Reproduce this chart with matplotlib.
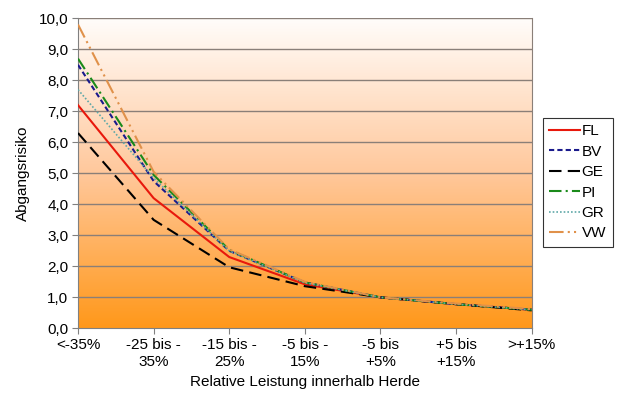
import matplotlib.pyplot as plt
import numpy as np
from matplotlib.colors import LinearSegmentedColormap

plt.rcParams['font.family'] = ['Liberation Sans', 'DejaVu Sans']

categories = ["<-35%", "-25 bis -\n35%", "-15 bis -\n25%", "-5 bis -\n15%",
              "-5 bis\n+5%", "+5 bis\n+15%", ">+15%"]

fl = [7.2, 4.2, 2.3, 1.42, 1.0, 0.78, 0.6]
bv = [8.5, 4.75, 2.5, 1.48, 1.0, 0.78, 0.6]
ge = [6.3, 3.5, 1.97, 1.36, 1.0, 0.78, 0.58]
pi = [8.7, 4.95, 2.53, 1.48, 1.0, 0.78, 0.6]
gr = [7.7, 4.85, 2.5, 1.47, 1.0, 0.78, 0.6]
vw = [9.8, 5.05, 2.55, 1.5, 1.0, 0.8, 0.62]

fig = plt.figure(figsize=(6.19, 3.98), dpi=100)
ax = fig.add_axes([0.126, 0.175, 0.733, 0.779])

x = np.arange(len(categories))

# background gradient, white at the top to orange at the bottom
cmap = LinearSegmentedColormap.from_list("bg", ["#FF981A", "#FFC89C", "#FFFDFB"])
grad = np.linspace(0, 1, 256).reshape(-1, 1)
ax.imshow(grad, cmap=cmap, aspect="auto", origin="lower",
          extent=[0, len(categories) - 1, 0, 10], zorder=0)

for yv in np.arange(1, 11):
    ax.axhline(yv, color="#8A7F78", lw=1.0, zorder=1)

ax.plot(x, fl, color="#E8180C", lw=1.5, label="FL", zorder=3)
ax.plot(x, bv, color="#1A1A8C", lw=1.5, ls=(0, (2.5, 1.5)), label="BV", zorder=3)
ax.plot(x, ge, color="#000000", lw=1.5, ls=(0, (6, 3)), label="GE", zorder=3)
ax.plot(x, pi, color="#1A8A1A", lw=1.5, ls=(0, (6, 2, 1, 2)), label="PI", zorder=3)
ax.plot(x, gr, color="#5FA8A8", lw=1.2, ls=(0, (1, 1.2)), label="GR", zorder=3)
ax.plot(x, vw, color="#E0914A", lw=1.5, ls=(0, (7, 2, 1, 2, 1, 2)), label="VW", zorder=3)

ax.set_xlim(0, len(categories) - 1)
ax.set_ylim(0, 10)
ax.set_xticks(x)
ax.set_xticklabels(categories, fontsize=11, linespacing=1.3)
ax.set_yticks(np.arange(0, 11))
ax.set_yticklabels([f"{v},0" for v in range(11)], fontsize=11)
ax.tick_params(axis="both", direction="out", length=4, color="#808080", pad=3)

for side in ["left", "bottom"]:
    ax.spines[side].set_color("#808080")
ax.spines["right"].set_color("#8A7F78")
ax.spines["top"].set_visible(False)

ax.set_xlabel("Relative Leistung innerhalb Herde", fontsize=11, labelpad=4)
ax.set_ylabel("Abgangsrisiko", fontsize=11, labelpad=6)

leg = ax.legend(loc="upper left", bbox_to_anchor=(1.024, 0.68), frameon=True,
                fancybox=False, edgecolor="#000000", fontsize=11,
                handlelength=2.0, handletextpad=0.1, labelspacing=0.42,
                borderpad=0.45, borderaxespad=0)
leg.get_frame().set_linewidth(0.8)

fig.savefig("out.png", dpi=100)
